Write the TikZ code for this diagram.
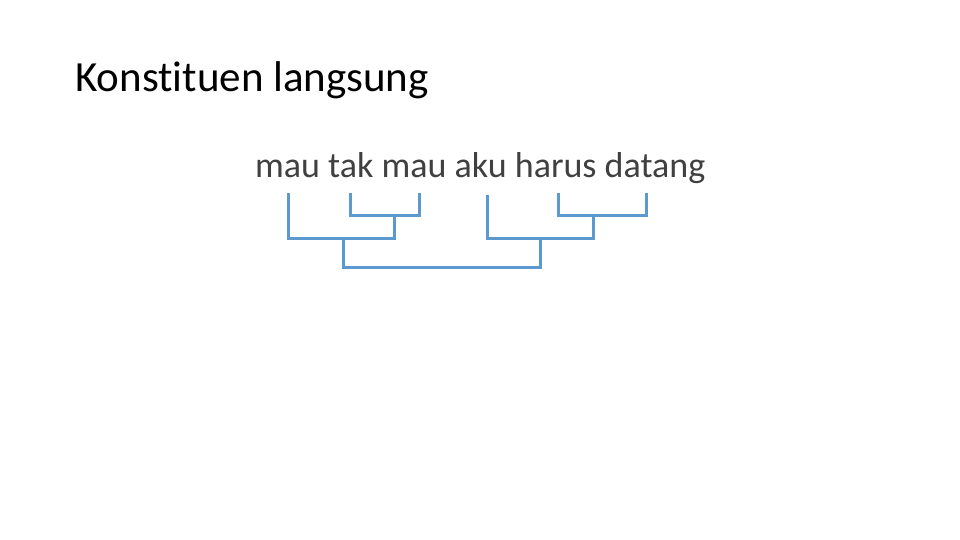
\documentclass[tikz,border=0pt]{standalone}
\usepackage{fontspec}
\setmainfont{Carlito}[Ligatures=NoCommon]
\usepackage{tikz}
\usetikzlibrary{positioning}
\definecolor{bracketblue}{rgb}{0.36,0.60,0.81}
\definecolor{textgray}{rgb}{0.25,0.25,0.25}
\begin{document}
\begin{tikzpicture}[line cap=butt,line join=miter,x=1pt,y=-1pt,
  bracket/.style={draw=bracketblue,line width=3pt},
  wordline/.style={anchor=base west,inner sep=0pt,text=textgray,font=\fontsize{36}{40}\selectfont},
  titleline/.style={anchor=base west,inner sep=0pt,text=black,font=\fontsize{43}{48}\selectfont}]
\useasboundingbox (0,0) rectangle (960,540);
\node[titleline] (title) at (75,92) {Konstituen langsung};
\node[wordline] (sentence) at (255,178) {mau tak mau aku harus datang};
% word ends
\coordinate (mauA) at (288,193);
\coordinate (tak) at (350,193);
\coordinate (mauB) at (419,193);
\coordinate (aku) at (487,195);
\coordinate (harus) at (558,193);
\coordinate (datang) at (646,193);
% joins
\coordinate (takmau) at (394,215);
\coordinate (harusdatang) at (593,215);
\coordinate (mauphrase) at (343,238);
\coordinate (akuphrase) at (540,238);
\coordinate (clause) at (441,267);
\draw[bracket] (tak) |- (takmau) -| (mauB);
\draw[bracket] (mauA) |- (mauphrase) -| (takmau);
\draw[bracket] (harus) |- (harusdatang) -| (datang);
\draw[bracket] (aku) |- (akuphrase) -| (harusdatang);
\draw[bracket] (mauphrase) |- (clause) -| (akuphrase);
\end{tikzpicture}
\end{document}
